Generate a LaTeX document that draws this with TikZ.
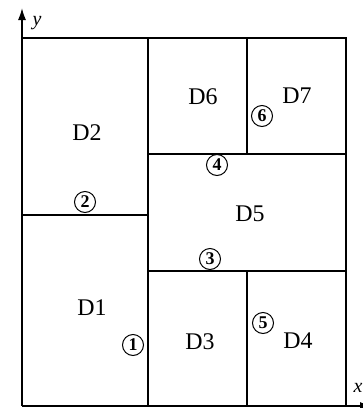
\documentclass[tikz,border=0pt]{standalone}
\usepackage{fontspec}
\setmainfont{Liberation Serif}
\usetikzlibrary{arrows.meta}
\begin{document}
\begin{tikzpicture}[x=1bp,y=-1bp,
  wall/.style={line width=1.6bp},
  axis/.style={line width=1.6bp,-{Latex[length=12bp,width=8bp]}},
  region/.style={font=\fontsize{24}{24}\selectfont, inner sep=0pt},
  num/.style={circle, draw, line width=1bp, inner sep=0pt, minimum size=21bp, font=\fontsize{18}{18}\selectfont\bfseries},
  axlab/.style={font=\fontsize{20}{20}\selectfont\itshape, inner sep=0pt}]
\useasboundingbox (0,0) rectangle (363,408);
% corners
\coordinate (O) at (22,406);
\coordinate (TL) at (22,38);
\coordinate (TR) at (346,38);
\coordinate (BR) at (346,406);
\coordinate (Mt) at (148,38);
\coordinate (Mb) at (148,406);
\coordinate (L2) at (22,215);
\coordinate (M2) at (148,215);
\coordinate (M4) at (148,154);
\coordinate (R4) at (346,154);
\coordinate (M3) at (148,271);
\coordinate (R3) at (346,271);
\coordinate (V6t) at (247,38);
\coordinate (V6b) at (247,154);
\coordinate (V5t) at (247,271);
\coordinate (V5b) at (247,406);
\coordinate (Ytip) at (22,8);
\coordinate (Xtip) at (372,406);
% axes
\draw[axis] (O) -- (Ytip);
\draw[axis] (O) -- (Xtip);
% walls
\draw[wall] (TL) -- (TR) -- (BR);
\draw[wall] (Mt) -- (Mb);
\draw[wall] (L2) -- (M2);
\draw[wall] (M4) -- (R4);
\draw[wall] (M3) -- (R3);
\draw[wall] (V6t) -- (V6b);
\draw[wall] (V5t) -- (V5b);
% labels
\node[axlab] (ylab) at (37,23) {y};
\node[axlab] (xlab) at (358,388) {x};
\node[region] (D2) at (87,133) {D2};
\node[region] (D1) at (92,308) {D1};
\node[region] (D6) at (203,97) {D6};
\node[region] (D7) at (297,96) {D7};
\node[region] (D5) at (250,214) {D5};
\node[region] (D3) at (200,342) {D3};
\node[region] (D4) at (298,341) {D4};
\node[num] (n1) at (133,345) {1};
\node[num] (n2) at (85,202) {2};
\node[num] (n3) at (210,259) {3};
\node[num] (n4) at (217,165) {4};
\node[num] (n5) at (263,323) {5};
\node[num] (n6) at (262,116) {6};
\end{tikzpicture}
\end{document}
